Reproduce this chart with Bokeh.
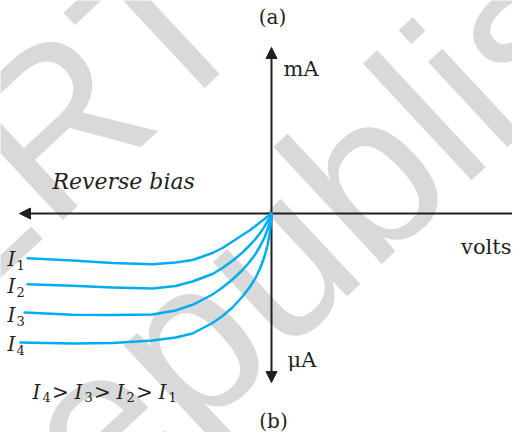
from bokeh.plotting import figure
from bokeh.models import Range1d, Arrow, NormalHead
from bokeh.core.properties import value
from bokeh.embed import file_html
from bokeh.resources import INLINE

# ---- data (reverse-bias characteristics, arbitrary units) ----
volts_I1 = [-244, -199, -159, -119, -96, -79, -59, -49, -39, -29, -22, -16, -11, -7, -4, -2, 0]
curr_I1 = [-44.7, -47, -49.5, -50.7, -49, -46.5, -39.5, -34.5, -28, -21.5, -17, -12.5, -8.5, -5.5, -3, -1.5, 0]
volts_I2 = [-244, -199, -159, -119, -96, -79, -59, -49, -39, -29, -22, -16, -11, -7, -4, -2, 0]
curr_I2 = [-70.7, -72.3, -74, -75, -72.5, -68, -60.5, -54.5, -47.3, -39, -32, -25.5, -19, -13, -8, -4.5, 0]
volts_I3 = [-247, -199, -159, -119, -96, -79, -59, -49, -39, -29, -22, -16, -11, -7, -4, -2, 0]
curr_I3 = [-99, -101.3, -101.5, -101, -97, -91.3, -81, -74, -66, -56.5, -48.5, -40.5, -32, -24, -16, -9.5, 0]
volts_I4 = [-251, -199, -159, -119, -96, -79, -59, -49, -39, -29, -22, -16, -11, -7, -4, -2, -1, 0]
curr_I4 = [-129, -130, -129.5, -127, -124, -120, -109.5, -102.5, -94, -83, -74, -64.5, -54, -43, -32, -21, -13, 0]

curve_names = ["1", "2", "3", "4"]
order_names = ["4", "3", "2", "1"]
watermark_lines = ["NCERT", "republished"]

# ---- styles ----
AX = "#231f20"
CYAN = "#00aeef"
GRAY = "#d9d9d9"
SERIF = value("DejaVu Serif")
WM_ANGLE = 0.75
DY = 4  # small upward nudge for all labels

p = figure(width=512, height=432, x_range=Range1d(-271, 241), y_range=Range1d(-219, 213),
           output_backend="svg", toolbar_location=None, min_border=0,
           x_axis_location=None, y_axis_location=None)
p.grid.visible = False
p.outline_line_color = None
p.background_fill_color = "white"
p.border_fill_color = "white"

# watermark
wm1 = p.text(x=[-62], y=[234], text=[watermark_lines[0]], angle=WM_ANGLE,
             text_font=value("Liberation Sans"), text_font_size="220px",
             text_color=GRAY, text_align="right", text_baseline="alphabetic")
wm2 = p.text(x=[142], y=[83], text=[watermark_lines[1]], angle=WM_ANGLE,
             text_font=value("Liberation Sans"), text_font_size="220px",
             text_color=GRAY, text_align="center", text_baseline="alphabetic")
wm1.level = "image"
wm2.level = "image"

# axes with arrows
h_ax = Arrow(end=NormalHead(size=11, fill_color=AX, line_color=AX, line_width=1),
             x_start=241, y_start=0, x_end=-252, y_end=0, line_color=AX, line_width=2)
v_ax = Arrow(start=NormalHead(size=11, fill_color=AX, line_color=AX, line_width=1),
             end=NormalHead(size=11, fill_color=AX, line_color=AX, line_width=1),
             x_start=0, y_start=-169, x_end=0, y_end=166, line_color=AX, line_width=2)
h_ax.level = "underlay"
v_ax.level = "underlay"
p.add_layout(h_ax)
p.add_layout(v_ax)

# curves
for xs, ys in [(volts_I1, curr_I1), (volts_I2, curr_I2), (volts_I3, curr_I3), (volts_I4, curr_I4)]:
    p.line(xs, ys, line_color=CYAN, line_width=2.5, line_join="round", line_cap="round")

# upright labels
p.text(x=[1], y=[193 + DY], text=["(a)"], text_font=SERIF, text_font_size="20px",
       text_color=AX, text_align="center", text_baseline="alphabetic")
p.text(x=[2], y=[-211 + DY], text=["(b)"], text_font=SERIF, text_font_size="20px",
       text_color=AX, text_align="center", text_baseline="alphabetic")
p.text(x=[12], y=[141 + DY], text=["mA"], text_font=SERIF, text_font_size="21px",
       text_color=AX, text_align="left", text_baseline="alphabetic")
p.text(x=[16], y=[-150 + DY], text=["μA"], text_font=SERIF, text_font_size="21px",
       text_color=AX, text_align="left", text_baseline="alphabetic")
p.text(x=[240], y=[-37 + DY], text=["volts"], text_font=SERIF, text_font_size="21px",
       text_color=AX, text_align="right", text_baseline="alphabetic")
p.text(x=[-219], y=[28 + DY], text=["Reverse bias"], text_font=SERIF, text_font_style="italic",
       text_font_size="22px", text_color=AX, text_align="left", text_baseline="alphabetic")

# curve labels I1..I4
lab_base = [-49.7 + DY, -76.3 + DY, -105 + DY, -134 + DY]
p.text(x=[-264] * 4, y=lab_base, text=["I"] * 4, text_font=SERIF, text_font_style="italic",
       text_font_size="20px", text_color=AX, text_align="left", text_baseline="alphabetic")
p.text(x=[-255] * 4, y=[b - 6 for b in lab_base], text=curve_names, text_font=SERIF,
       text_font_size="13px", text_color=AX, text_align="left", text_baseline="alphabetic")

# inequality I4 > I3 > I2 > I1
ix = [-239, -197, -155, -113]
p.text(x=ix, y=[-182 + DY] * 4, text=["I"] * 4, text_font=SERIF, text_font_style="italic",
       text_font_size="20px", text_color=AX, text_align="left", text_baseline="alphabetic")
p.text(x=[v + 10 for v in ix], y=[-187 + DY] * 4, text=order_names, text_font=SERIF,
       text_font_size="13px", text_color=AX, text_align="left", text_baseline="alphabetic")
p.text(x=[-211, -169, -127], y=[-182 + DY] * 3, text=[">"] * 3, text_font=SERIF,
       text_font_size="20px", text_color=AX, text_align="center", text_baseline="alphabetic")

open("out.html", "w").write(file_html(p, INLINE))
